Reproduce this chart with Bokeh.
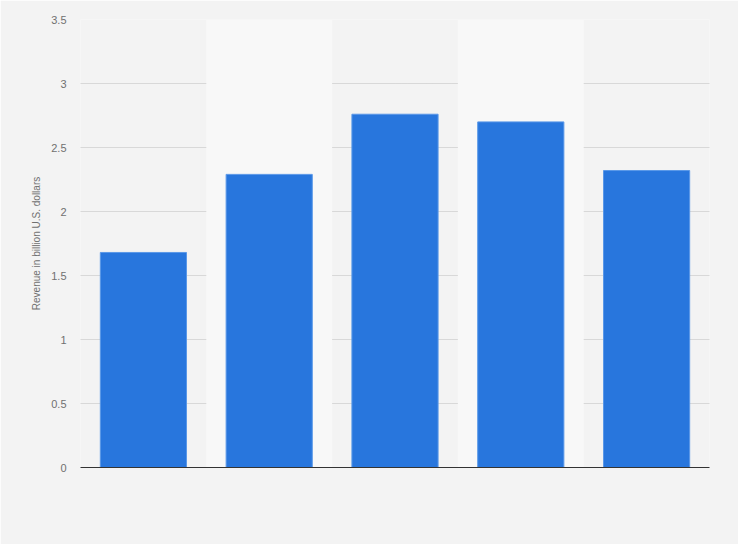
from bokeh.plotting import figure
from bokeh.models import Range1d, FactorRange, SingleIntervalTicker, ColumnDataSource
from bokeh.embed import file_html
from bokeh.resources import INLINE

# Data
categories = ["2015", "2016", "2017", "2018", "2019"]
revenue = [1.68, 2.29, 2.76, 2.70, 2.32]
band_categories = [categories[1], categories[3]]
y_label = "Revenue in billion U.S. dollars"

BG = "#f3f3f3"
BAND = "#f8f8f8"
BAR = "#2876dd"

p = figure(
    width=738, height=544,
    x_range=FactorRange(*categories, range_padding=0),
    y_range=Range1d(0, 3.5),
    output_backend="svg", toolbar_location=None,
    min_border_left=80, min_border_right=29, min_border_top=19, min_border_bottom=77,
)
p.background_fill_color = BG
p.border_fill_color = BG
p.outline_line_color = None

# alternating bands
p.vbar(x=band_categories, top=[3.5, 3.5], bottom=0, width=1.0,
       fill_color=BAND, line_color=None)

src = ColumnDataSource(dict(x=categories, top=revenue))
p.vbar(x="x", top="top", source=src, width=0.685,
       fill_color=BAR, line_color="#5a98e8", line_width=1)

# grid
p.xgrid.grid_line_color = None
p.ygrid.grid_line_color = "#bdbdbd"
p.ygrid.grid_line_dash = "1 1"
p.ygrid.grid_line_width = 1
p.ygrid.level = "underlay"

# y axis
p.yaxis.ticker = SingleIntervalTicker(interval=0.5)
p.yaxis.axis_line_color = None
p.yaxis.major_tick_line_color = None
p.yaxis.major_tick_out = 0
p.yaxis.major_tick_in = 0
p.yaxis.minor_tick_line_color = None
p.yaxis.minor_tick_out = 0
p.yaxis.major_label_text_color = "#707070"
p.yaxis.major_label_text_font = "Liberation Sans"
p.yaxis.major_label_text_font_size = "11px"
p.yaxis.major_label_standoff = 14
p.yaxis.axis_label = y_label
p.yaxis.axis_label_text_font = "Liberation Sans"
p.yaxis.axis_label_text_font_size = "10px"
p.yaxis.axis_label_text_font_style = "normal"
p.yaxis.axis_label_text_color = "#707070"
p.yaxis.axis_label_standoff = 6

# x axis
p.xaxis.axis_line_color = "#333333"
p.xaxis.axis_line_width = 1
p.xaxis.major_tick_line_color = None
p.xaxis.minor_tick_line_color = None
p.xaxis.major_label_text_color = None
p.xaxis.major_label_text_font_size = "11px"

open("out.html", "w").write(file_html(p, INLINE))
